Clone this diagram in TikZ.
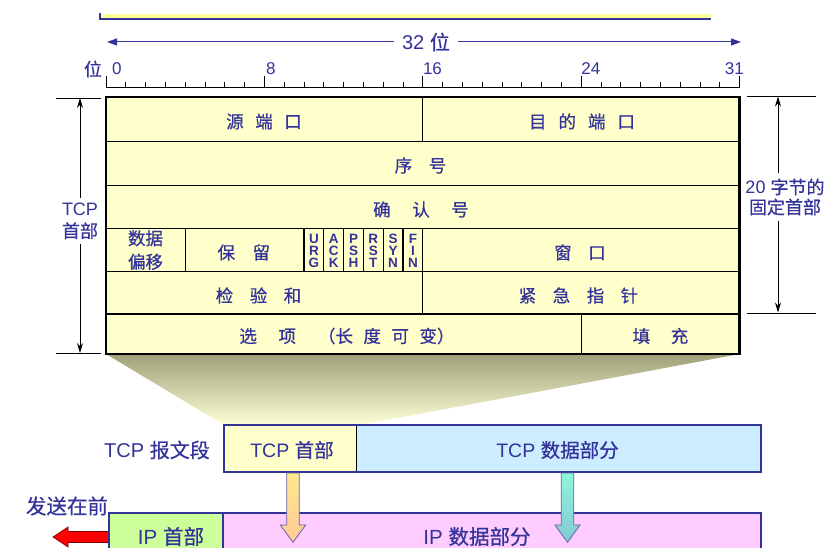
\documentclass[tikz,border=0pt]{standalone}
\usepackage{fontspec}
\setmainfont{Liberation Sans}
\newfontfamily\cjk[FakeBold=0.6]{Noto Sans CJK SC}
\usetikzlibrary{arrows.meta}
\definecolor{navy}{RGB}{51,51,153}
\definecolor{cellyel}{RGB}{255,255,204}
\definecolor{baryel}{RGB}{255,255,153}
\definecolor{segblue}{RGB}{204,236,255}
\definecolor{ipgreen}{RGB}{204,255,153}
\definecolor{ippink}{RGB}{255,204,255}
\definecolor{funtop}{RGB}{160,160,120}
\definecolor{funbot}{RGB}{255,255,215}
\definecolor{arrline}{RGB}{100,100,170}
\definecolor{orgtop}{RGB}{255,232,144}
\definecolor{orgbot}{RGB}{255,200,152}
\definecolor{teltop}{RGB}{144,246,220}
\definecolor{telbot}{RGB}{128,200,212}
\definecolor{darkred}{RGB}{120,0,0}
\newcommand\zh[1]{{\cjk #1}}
\begin{document}
\begin{tikzpicture}[x=1pt,y=-1pt,
  lbl/.style={text=navy,inner sep=0pt,font=\fontsize{17.5}{23.5}\selectfont\cjk,align=center},
  flag/.style={text=navy,inner sep=0pt,font=\fontsize{13.5}{12}\selectfont\bfseries,align=center},
  ann/.style={text=navy,inner sep=0pt,font=\fontsize{18}{22}\selectfont,align=center},
  num/.style={text=navy,inner sep=0pt,font=\fontsize{17}{20}\selectfont},
  gridline/.style={black,line width=1.1pt},
  blkarr/.style={black,line width=0.8pt,-{Stealth[length=10pt,width=6pt]}},
  navyarr/.style={navy,line width=1pt,-{Triangle[length=10pt,width=7pt]}},
  segborder/.style={navy,line width=2pt},
  downarr/.style={draw=arrline,line width=0.8pt}]
\useasboundingbox (0,0) rectangle (833,548);
\clip (0,0) rectangle (833,548);

% top bar
\fill[baryel] (100,14) rectangle (711,19);
\draw[navy,line width=1.2pt] (100,13.5) -- (100,19) -- (711,19);

% 32 bit arrow
\node[ann,font=\fontsize{20}{24}\selectfont,inner xsep=8pt] (w32) at (426,42) {32 \zh{位}};
\coordinate (a32l) at (107,42);
\coordinate (a32r) at (741,42);
\draw[navyarr] (w32) -- (a32l);
\draw[navyarr] (w32) -- (a32r);

% ruler
\node[num,font=\fontsize{18}{20}\selectfont\cjk] (wei) at (93,69) {位};
\node[num,anchor=base west] (n0) at (112,75) {0};
\node[num,anchor=base west] (n8) at (266,75) {8};
\node[num,anchor=base west] (n16) at (422.8,75) {16};
\node[num,anchor=base west] (n24) at (581.2,75) {24};
\node[num,anchor=base east] (n31) at (744,75) {31};
\draw[black,line width=1pt] (106,88) -- (739.6,88);
\foreach \i in {0,...,32} \draw[black,line width=0.8pt] (106+19.8*\i,82) -- (106+19.8*\i,88);
\foreach \i in {0,8,16,24,32} \draw[black,line width=0.8pt] (106+19.8*\i,76) -- (106+19.8*\i,88);

% funnel
\shade[top color=funtop,bottom color=funbot] (106,354) -- (739.6,354) -- (360,425) -- (224,425) -- cycle;

% table
\fill[cellyel] (106,97) rectangle (739.6,354);
\foreach \y in {141.5,185.5,228.5,271.5,314} \draw[gridline] (106,\y) -- (739.6,\y);
\draw[gridline] (422.8,97) -- (422.8,141.5);
\foreach \x in {185.2,304,323.8,343.6,363.4,383.2,403,422.8} \draw[gridline] (\x,228.5) -- (\x,271.5);
\draw[gridline] (422.8,271.5) -- (422.8,314);
\draw[gridline] (581.2,314) -- (581.2,354);
\draw[black,line width=2.5pt] (106,97) rectangle (739.6,354);

\node[lbl] (src) at (264,121.5) {源\hspace{11.5pt}端\hspace{11.5pt}口};
\node[lbl] (dst) at (582,121.5) {目\hspace{12pt}的\hspace{12pt}端\hspace{12pt}口};
\node[lbl] (seq) at (420.5,165.5) {序\hspace{16.5pt}号};
\node[lbl] (ack) at (421,209.5) {确\hspace{21.5pt}认\hspace{21.5pt}号};
\node[lbl] (off) at (145.5,250) {数据\\偏移};
\node[lbl] (res) at (243.8,252.5) {保\hspace{17.5pt}留};
\node[flag] (urg) at (313.9,250.8) {U\\R\\G};
\node[flag] (ackf) at (333.7,250.8) {A\\C\\K};
\node[flag] (psh) at (353.5,250.8) {P\\S\\H};
\node[flag] (rst) at (373.3,250.8) {R\\S\\T};
\node[flag] (syn) at (393.1,250.8) {S\\Y\\N};
\node[flag] (fin) at (412.9,250.8) {F\\I\\N};
\node[lbl] (win) at (580,252.5) {窗\hspace{16.5pt}口};
\node[lbl] (chk) at (258.5,295.5) {检\hspace{16.5pt}验\hspace{16.5pt}和};
\node[lbl] (urp) at (578.5,295.5) {紧\hspace{16.5pt}急\hspace{16.5pt}指\hspace{16.5pt}针};
\node[lbl] (opt) at (347,336) {选\hspace{21.5pt}项\hspace{22pt}（长\hspace{10.5pt}度\hspace{10.5pt}可\hspace{10.5pt}变）};
\node[lbl] (pad) at (660.5,336) {填\hspace{20.5pt}充};

% left annotation
\draw[black,line width=0.8pt] (56,98) -- (101,98);
\draw[black,line width=0.8pt] (56,353.3) -- (101,353.3);
\node[ann,inner ysep=5pt] (lhdr) at (80,221) {TCP\\\zh{首部}};
\coordinate (lt) at (80,98);
\coordinate (lb) at (80,353);
\draw[blkarr] (lhdr) -- (lt);
\draw[blkarr] (lhdr) -- (lb);

% right annotation
\draw[black,line width=0.8pt] (747,96) -- (816,96);
\draw[black,line width=0.8pt] (747,313) -- (816,313);
\node[ann,inner ysep=5pt,font=\fontsize{18}{20}\selectfont] (rhdr) at (785,197) {20 \zh{字节的}\\\zh{固定首部}};
\coordinate (rt) at (778,96.5);
\coordinate (rb) at (778,312.5);
\draw[blkarr] (rt |- rhdr.north) -- (rt);
\draw[blkarr] (rb |- rhdr.south) -- (rb);

% TCP segment
\fill[cellyel] (224,425) rectangle (356,472);
\fill[segblue] (356,425) rectangle (761,472);
\draw[black,line width=0.8pt] (356,425) -- (356,472);
\draw[segborder] (224,425) rectangle (761,472);
\node[ann,font=\fontsize{20}{22}\selectfont] (tcpseg) at (157,450) {TCP \zh{报文段}};
\node[ann,font=\fontsize{19.5}{22}\selectfont] (thdr) at (292,450) {TCP \zh{首部}};
\node[ann,font=\fontsize{19.5}{22}\selectfont] (tdata) at (557.5,450) {TCP \zh{数据部分}};

% send-first arrow
\node[ann,font=\fontsize{20.5}{22}\selectfont] (first) at (67,506) {\zh{发送在前}};
\filldraw[fill=red,draw=darkred,line width=0.6pt] (112,531.5) -- (68,531.5) -- (68,527) -- (53,537) -- (68,547) -- (68,542.5) -- (112,542.5) -- cycle;

% IP datagram
\fill[ipgreen] (109,513) rectangle (223,560);
\fill[ippink] (223,513) rectangle (761,560);
\draw[navy,line width=1.2pt] (223,513) -- (223,560);
\draw[segborder] (109,513) rectangle (761,560);
\node[ann,font=\fontsize{20.5}{22}\selectfont] (iphdr) at (171,536.5) {IP \zh{首部}};
\node[ann,font=\fontsize{20.5}{22}\selectfont] (ipdata) at (477,536.5) {IP \zh{数据部分}};

% down arrows
\shadedraw[downarr,top color=orgtop,bottom color=orgbot] (286.7,473) -- (299.3,473) -- (299.3,525) -- (305.7,525) -- (293,542.3) -- (280.3,525) -- (286.7,525) -- cycle;
\shadedraw[downarr,top color=teltop,bottom color=telbot] (561.2,473) -- (573.8,473) -- (573.8,525) -- (580,525) -- (567.5,542.3) -- (555,525) -- (561.2,525) -- cycle;
\end{tikzpicture}
\end{document}
